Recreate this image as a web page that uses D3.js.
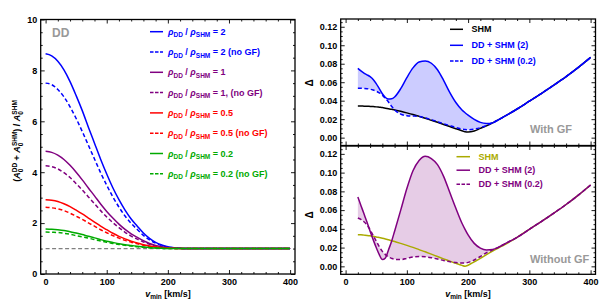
<!DOCTYPE html>
<html><head><meta charset="utf-8">
<script src="https://cdn.jsdelivr.net/npm/d3@7"></script>
<style>body{margin:0;background:#fff} text{font-family:"Liberation Sans",Arial,sans-serif;font-weight:bold}</style>
</head><body><svg id="c" width="607" height="302"></svg>
<script>
// ---------- DATA ----------
const vLeft = [0,10,20,30,40,50,60,70,80,90,100,110,120,130,140,150,160,170,180,190,200,210,220,230,240,250,300,350,400];
const ratio2GF    = [8.65,8.57,8.36,8.02,7.56,7.01,6.42,5.77,5.14,4.51,3.93,3.39,2.92,2.51,2.16,1.88,1.61,1.40,1.24,1.14,1.07,1.03,1.01,1.00,1.00,1.00,1.00,1.00,1.00];
const ratio2NoGF  = [7.50,7.44,7.25,6.96,6.57,6.11,5.60,5.06,4.52,3.98,3.49,3.03,2.63,2.28,1.99,1.75,1.52,1.34,1.21,1.12,1.06,1.03,1.01,1.00,1.00,1.00,1.00,1.00,1.00];
const ratio1GF    = [4.82,4.78,4.67,4.50,4.27,4.00,3.70,3.38,3.07,2.75,2.46,2.20,1.96,1.75,1.58,1.44,1.31,1.20,1.12,1.07,1.03,1.02,1.01,1.00,1.00,1.00,1.00,1.00,1.00];
const ratio1NoGF  = [4.25,4.22,4.13,3.98,3.79,3.55,3.30,3.03,2.76,2.49,2.24,2.02,1.82,1.64,1.49,1.37,1.26,1.17,1.10,1.06,1.03,1.01,1.00,1.00,1.00,1.00,1.00,1.00,1.00];
const ratio05GF   = [2.92,2.90,2.85,2.76,2.65,2.51,2.36,2.20,2.04,1.88,1.74,1.60,1.48,1.38,1.29,1.22,1.15,1.10,1.06,1.03,1.02,1.01,1.00,1.00,1.00,1.00,1.00,1.00,1.00];
const ratio05NoGF = [2.62,2.60,2.56,2.49,2.39,2.27,2.15,2.01,1.88,1.74,1.62,1.51,1.41,1.32,1.25,1.19,1.13,1.08,1.05,1.03,1.01,1.00,1.00,1.00,1.00,1.00,1.00,1.00,1.00];
const ratio02GF   = [1.77,1.76,1.74,1.71,1.66,1.61,1.55,1.48,1.42,1.35,1.29,1.24,1.19,1.15,1.12,1.09,1.06,1.04,1.02,1.01,1.00,1.00,1.00,1.00,1.00,1.00,1.00,1.00,1.00];
const ratio02NoGF = [1.65,1.64,1.63,1.60,1.56,1.51,1.46,1.41,1.35,1.30,1.25,1.20,1.16,1.13,1.10,1.07,1.05,1.03,1.02,1.01,1.00,1.00,1.00,1.00,1.00,1.00,1.00,1.00,1.00];
const leftLabels = ["2","2 (no GF)","1","1, (no GF)","0.5","0.5 (no GF)","0.2","0.2 (no GF)"];

const vRight = [20,25,30,35,40,45,50,55,60,65,70,75,80,90,100,110,120,130,140,150,160,170,180,190,195,200,210,220,230,240,250,260,280,300,320,340,360,380,400];
const shmGF     = [.0342,.0342,.0341,.0340,.0338,.0336,.0333,.0329,.0325,.0319,.0313,.0307,.0300,.0285,.0268,.0250,.0230,.0210,.0188,.0166,.0143,.0120,.0097,.0075,.0063,.0060,.0072,.0100,.0128,.0160,.0195,.0232,.0310,.0395,.0480,.0568,.0660,.0760,.0868];
const dd2GF     = [.0750,.0722,.0698,.0680,.0660,.0630,.0585,.0530,.0475,.0435,.0418,.0420,.0440,.0530,.0650,.0755,.0818,.0830,.0805,.0735,.0620,.0490,.0380,.0300,.0270,.0243,.0198,.0165,.0153,.0160,.0195,.0232,.0310,.0395,.0480,.0568,.0660,.0760,.0868];
const dd02GF    = [.0535,.0535,.0533,.0530,.0524,.0515,.0503,.0485,.0460,.0425,.0385,.0340,.0300,.0255,.0238,.0234,.0228,.0213,.0194,.0173,.0151,.0130,.0110,.0094,.0088,.0086,.0092,.0108,.0132,.0162,.0195,.0232,.0310,.0395,.0480,.0568,.0660,.0760,.0868];
const shmNoGF   = [.0337,.0336,.0333,.0330,.0326,.0320,.0314,.0307,.0300,.0292,.0283,.0274,.0265,.0245,.0224,.0202,.0178,.0155,.0130,.0105,.0080,.0056,.0032,.0010,.0002,.0012,.0048,.0085,.0125,.0163,.0198,.0233,.0310,.0395,.0480,.0568,.0660,.0760,.0868];
const dd2NoGF   = [.0740,.0650,.0560,.0470,.0375,.0285,.0200,.0125,.0072,.0090,.0175,.0265,.0375,.0600,.0830,.1020,.1130,.1175,.1150,.1085,.0960,.0790,.0620,.0460,.0395,.0335,.0245,.0195,.0175,.0180,.0205,.0240,.0310,.0395,.0480,.0568,.0660,.0760,.0868];
const dd02NoGF  = [.0516,.0500,.0475,.0440,.0390,.0330,.0270,.0210,.0160,.0125,.0100,.0085,.0075,.0072,.0085,.0100,.0105,.0102,.0092,.0078,.0062,.0050,.0040,.0035,.0036,.0042,.0068,.0105,.0145,.0175,.0205,.0240,.0310,.0395,.0480,.0568,.0660,.0760,.0868];

const xMajor = [0,100,200,300,400];
const yMajorLeft = [0,2,4,6,8,10];
const yMajorRight = [0,0.02,0.04,0.06,0.08,0.10,0.12];

// ---------- STYLE ----------
const BLUE="#0000ff", PURPLE="#800080", RED="#ff0000", GREEN="#00aa00", OLIVE="#aaaa00", GRAY="#999999";
const DASH="4,2.5";
const svg = d3.select("#c");

function richText(parent, x, y, parts, o={}) {
  const fs = o.fs || 9, ss = o.ss || 6.5;
  const t = parent.append("text").attr("x", x).attr("y", y).attr("font-size", fs)
    .attr("fill", o.fill || "#000").attr("text-anchor", o.anchor || "start");
  if (o.transform) t.attr("transform", o.transform);
  let shift = 0;
  parts.forEach(p => {
    const ts = t.append("tspan").text(p.t);
    const target = p.sub ? 2.5 : p.sup ? -3.5 : 0;
    ts.attr("dy", target - shift); shift = target;
    if (p.sub || p.sup) ts.attr("font-size", ss);
    if (p.it) ts.attr("font-style", "italic");
    if (p.dx) ts.attr("dx", p.dx);
  });
  return t;
}

function frame(g, x, y, yMajor, yMinorStep, showX, yFmt) {
  const [x0, x1] = x.range(), [y0, y1] = y.range();
  const xMinor = d3.range(0, 401, 20).filter(v => v % 100 !== 0);
  const yd = y.domain();
  const yMinor = d3.range(Math.ceil(yd[0]/yMinorStep)*yMinorStep, yd[1] + 1e-9, yMinorStep)
      .filter(v => !yMajor.some(m => Math.abs(m - v) < 1e-9));
  const style = s => { s.select(".domain").remove(); s.selectAll("line").attr("stroke","#000").attr("stroke-width",0.9);
    s.selectAll("text").attr("font-size",9).attr("font-family",'"Liberation Sans",Arial,sans-serif').attr("font-weight","bold").attr("fill","#000"); };
  g.append("g").attr("transform",`translate(0,${y0})`).call(d3.axisBottom(x).tickValues(xMajor).tickSize(-4).tickPadding(4.5).tickFormat(showX ? d3.format("d") : "")).call(style);
  g.append("g").attr("transform",`translate(0,${y0})`).call(d3.axisBottom(x).tickValues(xMinor).tickSize(-2).tickFormat("")).call(style);
  g.append("g").attr("transform",`translate(0,${y1})`).call(d3.axisTop(x).tickValues(xMajor).tickSize(-4).tickFormat("")).call(style);
  g.append("g").attr("transform",`translate(0,${y1})`).call(d3.axisTop(x).tickValues(xMinor).tickSize(-2).tickFormat("")).call(style);
  g.append("g").attr("transform",`translate(${x0},0)`).call(d3.axisLeft(y).tickValues(yMajor).tickSize(-4).tickPadding(3.5).tickFormat(yFmt)).call(style);
  g.append("g").attr("transform",`translate(${x0},0)`).call(d3.axisLeft(y).tickValues(yMinor).tickSize(-2).tickFormat("")).call(style);
  g.append("g").attr("transform",`translate(${x1},0)`).call(d3.axisRight(y).tickValues(yMajor).tickSize(-4).tickFormat("")).call(style);
  g.append("g").attr("transform",`translate(${x1},0)`).call(d3.axisRight(y).tickValues(yMinor).tickSize(-2).tickFormat("")).call(style);
  g.append("rect").attr("x",x0).attr("y",y1).attr("width",x1-x0).attr("height",y0-y1)
    .attr("fill","none").attr("stroke","#000").attr("stroke-width",1.3);
}

function drawLine(g, x, y, xs, ys, color, dashed, w=1.5) {
  const line = d3.line().x((d,i)=>x(xs[i])).y(d=>y(d)).curve(d3.curveMonotoneX);
  g.append("path").attr("d", line(ys)).attr("fill","none").attr("stroke",color)
    .attr("stroke-width",w).attr("stroke-dasharray", dashed ? DASH : null);
}
function drawBand(g, x, y, xs, a, b, color) {
  const area = d3.area().x((d,i)=>x(xs[i])).y0((d,i)=>y(b[i])).y1(d=>y(d)).curve(d3.curveMonotoneX);
  g.append("path").attr("d", area(a)).attr("fill", color).attr("fill-opacity",0.2).attr("stroke","none");
}

// ---------- LEFT PANEL ----------
const gL = svg.append("g");
const xL = d3.scaleLinear().domain([-8,408]).range([40.7,295]);
const yL = d3.scaleLinear().domain([0,10]).range([274,19.5]);
gL.append("line").attr("x1",xL(0)).attr("x2",xL(400)).attr("y1",yL(1)).attr("y2",yL(1))
  .attr("stroke","#808080").attr("stroke-width",1.3).attr("stroke-dasharray",DASH);
const leftSeries = [
  [ratio2GF,BLUE,false],[ratio2NoGF,BLUE,true],[ratio1GF,PURPLE,false],[ratio1NoGF,PURPLE,true],
  [ratio05GF,RED,false],[ratio05NoGF,RED,true],[ratio02GF,GREEN,false],[ratio02NoGF,GREEN,true]];
leftSeries.forEach(([d,c,dash]) => drawLine(gL, xL, yL, vLeft, d, c, dash));
frame(gL, xL, yL, yMajorLeft, 0.5, true, d3.format("d"));
gL.append("text").attr("x",52).attr("y",37).attr("font-size",12).attr("fill",GRAY).text("DD");
leftSeries.forEach(([d,c,dash], i) => {
  const yy = 31.7 + i*20.3;
  gL.append("line").attr("x1",150).attr("x2",163).attr("y1",yy).attr("y2",yy).attr("stroke",c)
    .attr("stroke-width",1.5).attr("stroke-dasharray", dash ? "3.5,1.5" : null);
  richText(gL, 168, yy+3, [{t:"ρ",it:1},{t:"DD",sub:1},{t:" / "},{t:"ρ",it:1},{t:"SHM",sub:1},{t:" = "+leftLabels[i]}], {fill:c});
});
richText(gL, 0, 0, [{t:"("},{t:"A",it:1},{t:"0",sub:1},{t:"DD",sup:1,dx:-3.6},{t:" + "},{t:"A",it:1},{t:"0",sub:1},{t:"SHM",sup:1,dx:-3.6},{t:") / "},{t:"A",it:1},{t:"0",sub:1},{t:"SHM",sup:1,dx:-3.6}],
  {anchor:"middle", transform:"translate(20,141) rotate(-90)"});
richText(gL, 168, 296.5, [{t:"v",it:1},{t:"min",sub:1},{t:" [km/s]"}], {anchor:"middle"});

// ---------- RIGHT PANELS ----------
const xR = d3.scaleLinear().domain([-8,408]).range([340.7,595.5]);
const yT = d3.scaleLinear().domain([-0.0085,0.1284]).range([145.5,19]);
const yB = d3.scaleLinear().domain([-0.0085,0.1284]).range([274.3,146]);
const fmt2 = d3.format(".2f");

const gT = svg.append("g");
drawBand(gT, xR, yT, vRight, dd2GF, dd02GF, BLUE);
drawLine(gT, xR, yT, vRight, shmGF, "#000", false);
drawLine(gT, xR, yT, vRight, dd02GF, BLUE, true);
drawLine(gT, xR, yT, vRight, dd2GF, BLUE, false);
frame(gT, xR, yT, yMajorRight, 0.005, false, fmt2);
const topLeg = [["SHM","#000",false],["DD + SHM (2)",BLUE,false],["DD + SHM (0.2)",BLUE,true]];
topLeg.forEach(([t,c,dash],i) => {
  const yy = [29.3,45.3,61][i];
  gT.append("line").attr("x1",450).attr("x2",463).attr("y1",yy).attr("y2",yy).attr("stroke",c)
    .attr("stroke-width",1.5).attr("stroke-dasharray", dash ? "3.5,1.5" : null);
  gT.append("text").attr("x",471.5).attr("y",yy+3).attr("font-size",9).attr("fill",c).text(t);
});
gT.append("text").attr("x",530).attr("y",132.5).attr("font-size",11).attr("fill",GRAY).text("With GF");
gT.append("text").attr("transform","translate(313,83) rotate(-90)").attr("text-anchor","middle").attr("font-size",10).text("Δ");

const gB = svg.append("g");
drawBand(gB, xR, yB, vRight, dd2NoGF, dd02NoGF, PURPLE);
drawLine(gB, xR, yB, vRight, shmNoGF, OLIVE, false);
drawLine(gB, xR, yB, vRight, dd02NoGF, PURPLE, true);
drawLine(gB, xR, yB, vRight, dd2NoGF, PURPLE, false);
frame(gB, xR, yB, yMajorRight, 0.005, true, fmt2);
const botLeg = [["SHM",OLIVE,false],["DD + SHM (2)",PURPLE,false],["DD + SHM (0.2)",PURPLE,true]];
botLeg.forEach(([t,c,dash],i) => {
  const yy = [156.7,170.2,184.3][i];
  gB.append("line").attr("x1",456.5).attr("x2",470).attr("y1",yy).attr("y2",yy).attr("stroke",c)
    .attr("stroke-width",1.5).attr("stroke-dasharray", dash ? "3.5,1.5" : null);
  gB.append("text").attr("x",478.5).attr("y",yy+3).attr("font-size",9).attr("fill",c).text(t);
});
gB.append("text").attr("x",530).attr("y",262.5).attr("font-size",11).attr("fill",GRAY).text("Without GF");
gB.append("text").attr("transform","translate(313,215) rotate(-90)").attr("text-anchor","middle").attr("font-size",10).text("Δ");
richText(gB, 468, 296.5, [{t:"v",it:1},{t:"min",sub:1},{t:" [km/s]"}], {anchor:"middle"});
</script></body></html>
